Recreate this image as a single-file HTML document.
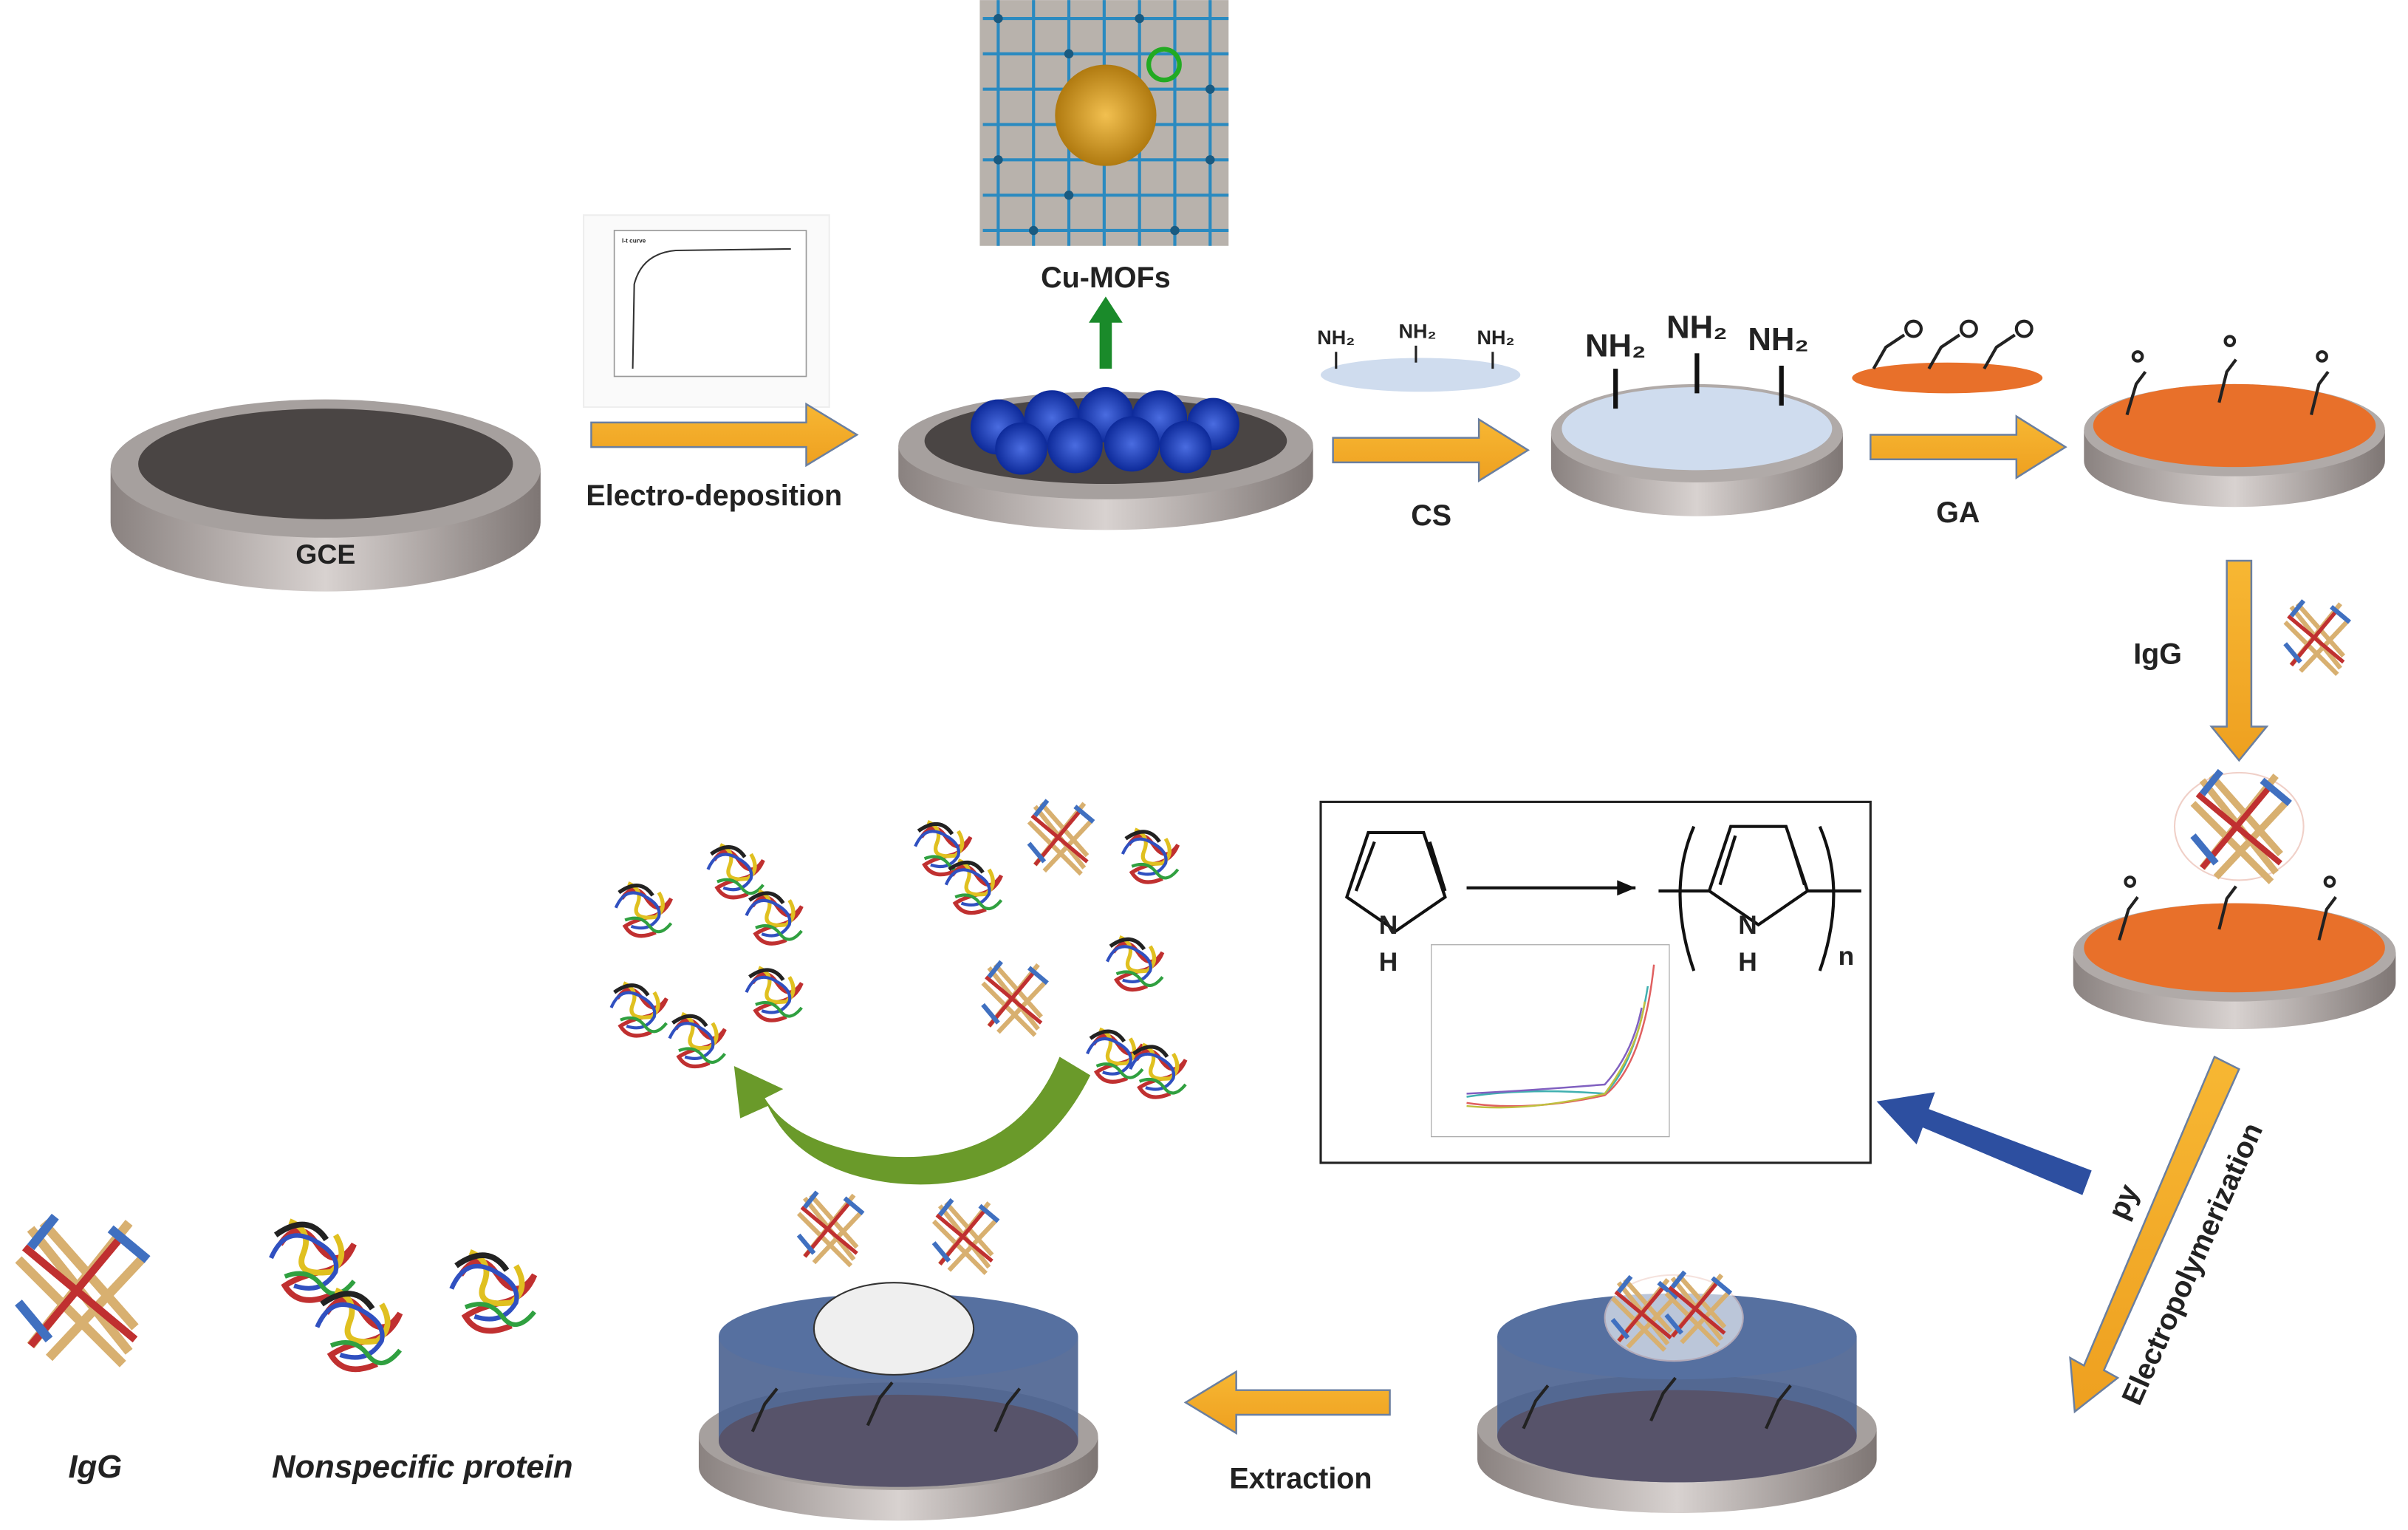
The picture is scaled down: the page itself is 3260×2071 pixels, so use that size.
<!DOCTYPE html>
<html><head><meta charset="utf-8"><style>
html,body{margin:0;padding:0;background:#fff;}
svg{display:block;}
text{font-family:"Liberation Sans",sans-serif;font-weight:bold;fill:#222;}
</style></head><body>
<svg width="3260" height="2071" viewBox="0 0 1568 996" xmlns="http://www.w3.org/2000/svg">
<defs>
<linearGradient id="side" x1="0" x2="1" y1="0" y2="0">
<stop offset="0" stop-color="#8a8280"/><stop offset="0.5" stop-color="#d8d2d0"/><stop offset="1" stop-color="#7e7674"/></linearGradient>
<linearGradient id="orA" x1="0" x2="0" y1="0" y2="1"><stop offset="0" stop-color="#f7b733"/><stop offset="1" stop-color="#eea020"/></linearGradient>
<radialGradient id="gold"><stop offset="0" stop-color="#f2c050"/><stop offset="1" stop-color="#b07a10"/></radialGradient>
<radialGradient id="bs"><stop offset="0" stop-color="#4a6ce0"/><stop offset="1" stop-color="#0d2a9a"/></radialGradient>
<g id="prot">
<path d="M0,0 q8,-12 16,0 t16,0 q-4,10 -14,12 t-16,6 q6,10 20,4" fill="none" stroke="#c03030" stroke-width="2.5"/>
<path d="M4,-10 q10,4 6,14 t12,8 q8,-6 2,-16" fill="none" stroke="#e0c020" stroke-width="2.5"/>
<path d="M-4,6 q6,-14 18,-8 t10,14 q-6,10 -18,6" fill="none" stroke="#3050c0" stroke-width="2"/>
<path d="M2,14 q10,-4 16,4 t14,-2" fill="none" stroke="#30a040" stroke-width="2"/>
<path d="M-2,-4 q14,-10 22,2" fill="none" stroke="#222" stroke-width="2.5"/>
</g>
<g id="igg">
<path d="M-16,-20 l32,40 M-12,-22 l30,34 M-20,-10 l34,34 M16,-22 l-32,40 M20,-10 l-30,32" stroke="#d8b070" stroke-width="3"/>
<path d="M-18,-14 l36,30 M14,-18 l-30,36" stroke="#c03030" stroke-width="2.5"/>
<path d="M-20,4 l10,12 M10,-20 l12,10 M-8,-24 l-8,10" stroke="#4070c0" stroke-width="3"/>
</g>
</defs>

<!-- Disk 1 GCE -->
<g>
<path d="M72,305 v35 a140,45 0 0 0 280,0 v-35 z" fill="url(#side)"/>
<ellipse cx="212" cy="305" rx="140" ry="45" fill="#a6a09e"/>
<ellipse cx="212" cy="302" rx="122" ry="36" fill="#4a4544"/>
<text x="212" y="367" font-size="18" text-anchor="middle" fill="#333">GCE</text>
</g>

<!-- chart 1 -->
<rect x="380" y="140" width="160" height="125" fill="#fafafa" stroke="#eee"/>
<rect x="400" y="150" width="125" height="95" fill="#fff" stroke="#999" stroke-width="0.8"/>
<path d="M412,240 L413,185 Q418,165 440,163 L515,162" fill="none" stroke="#333" stroke-width="1"/>
<text x="405" y="158" font-size="4" font-weight="normal">I-t curve</text>

<!-- arrow 1 -->
<path d="M385,275 h140 v-12 l33,20 l-33,20 v-12 h-140 z" fill="url(#orA)" stroke="#6a7fa0" stroke-width="1.2"/>
<text x="465" y="329" font-size="19" text-anchor="middle">Electro-deposition</text>

<!-- Disk 2 -->
<path d="M585,290 v20 a135,35 0 0 0 270,0 v-20 z" fill="url(#side)"/>
<ellipse cx="720" cy="290" rx="135" ry="35" fill="#a6a09e"/>
<ellipse cx="720" cy="287" rx="118" ry="28" fill="#4a4544"/>
<g fill="url(#bs)">
<circle cx="650" cy="278" r="18"/><circle cx="685" cy="272" r="18"/><circle cx="720" cy="270" r="18"/><circle cx="755" cy="272" r="18"/><circle cx="790" cy="276" r="17"/>
<circle cx="665" cy="292" r="17"/><circle cx="700" cy="290" r="18"/><circle cx="737" cy="289" r="18"/><circle cx="772" cy="291" r="17"/>
</g>
<!-- Cu-MOFs -->
<rect x="638" y="0" width="162" height="160" fill="#b8b2ac"/>
<g stroke="#2a8ac0" stroke-width="2" fill="none">
<path d="M640,12 h160 M640,35 h160 M640,58 h160 M640,81 h160 M640,104 h160 M640,127 h160 M640,150 h160 M650,0 v160 M673,0 v160 M696,0 v160 M719,0 v160 M742,0 v160 M765,0 v160 M788,0 v160"/>
</g>
<g fill="#1a5a80"><circle cx="650" cy="12" r="3"/><circle cx="696" cy="35" r="3"/><circle cx="742" cy="12" r="3"/><circle cx="788" cy="58" r="3"/><circle cx="650" cy="104" r="3"/><circle cx="696" cy="127" r="3"/><circle cx="765" cy="150" r="3"/><circle cx="788" cy="104" r="3"/><circle cx="673" cy="150" r="3"/></g>
<circle cx="720" cy="75" r="33" fill="url(#gold)"/>
<circle cx="758" cy="42" r="10" fill="none" stroke="#2a2" stroke-width="3"/>
<text x="720" y="187" font-size="19" text-anchor="middle">Cu-MOFs</text>
<path d="M716,240 v-30 h-7 l11,-17 l11,17 h-7 v30 z" fill="#1a8a2a"/>

<!-- CS -->
<ellipse cx="925" cy="244" rx="65" ry="11" fill="#cfdcee"/>
<g font-size="13"><text x="870" y="224" text-anchor="middle">NH₂</text><text x="923" y="220" text-anchor="middle">NH₂</text><text x="974" y="224" text-anchor="middle">NH₂</text></g>
<path d="M870,229 v11 M922,225 v11 M972,229 v11" stroke="#222" stroke-width="1.5"/>
<path d="M868,285 h95 v-12 l32,20 l-32,20 v-12 h-95 z" fill="url(#orA)" stroke="#6a7fa0" stroke-width="1.2"/>
<text x="932" y="342" font-size="19" text-anchor="middle">CS</text>

<!-- Disk 3 -->
<path d="M1010,282 v22 a95,32 0 0 0 190,0 v-22 z" fill="url(#side)"/>
<ellipse cx="1105" cy="282" rx="95" ry="32" fill="#b0aaa8"/>
<ellipse cx="1105" cy="279" rx="88" ry="27" fill="#cfdcee"/>
<g font-size="21"><text x="1052" y="232" text-anchor="middle">NH₂</text><text x="1105" y="220" text-anchor="middle">NH₂</text><text x="1158" y="228" text-anchor="middle">NH₂</text></g>
<path d="M1052,240 v26 M1105,230 v26 M1160,238 v26" stroke="#111" stroke-width="3"/>

<!-- GA -->
<ellipse cx="1268" cy="246" rx="62" ry="10" fill="#e8702a"/>
<g fill="none" stroke="#222" stroke-width="2"><path d="M1220,240 l8,-14 l12,-8"/><circle cx="1246" cy="214" r="5"/><path d="M1256,240 l8,-14 l12,-8"/><circle cx="1282" cy="214" r="5"/><path d="M1292,240 l8,-14 l12,-8"/><circle cx="1318" cy="214" r="5"/></g>
<path d="M1218,283 h95 v-12 l32,20 l-32,20 v-12 h-95 z" fill="url(#orA)" stroke="#6a7fa0" stroke-width="1.2"/>
<text x="1275" y="340" font-size="19" text-anchor="middle">GA</text>

<!-- Disk 4 -->
<path d="M1357,280 v20 a98,30 0 0 0 196,0 v-20 z" fill="url(#side)"/>
<ellipse cx="1455" cy="280" rx="98" ry="30" fill="#b0aaa8"/>
<ellipse cx="1455" cy="277" rx="92" ry="27" fill="#e8702a"/>
<g fill="none" stroke="#222" stroke-width="2"><path d="M1385,270 l6,-20 l6,-8"/><circle cx="1392" cy="232" r="3"/><path d="M1445,262 l5,-20 l6,-8"/><circle cx="1452" cy="222" r="3"/><path d="M1505,270 l5,-20 l6,-8"/><circle cx="1512" cy="232" r="3"/></g>

<!-- down arrow IgG -->
<path d="M1450,365 h16 v108 h10 l-18,22 l-18,-22 h10 z" fill="url(#orA)" stroke="#6a7fa0" stroke-width="1.2"/>
<text x="1405" y="432" font-size="19" text-anchor="middle">IgG</text>
<use href="#igg" x="1508" y="415"/>

<!-- Disk 5 -->
<path d="M1350,620 v20 a105,30 0 0 0 210,0 v-20 z" fill="url(#side)"/>
<ellipse cx="1455" cy="620" rx="105" ry="32" fill="#b0aaa8"/>
<ellipse cx="1455" cy="617" rx="98" ry="29" fill="#e8702a"/>
<ellipse cx="1458" cy="538" rx="42" ry="35" fill="#fff" stroke="#f0d0c8"/>
<use href="#igg" x="1458" y="538" transform="translate(-729 -269) scale(1.5)"/>
<g fill="none" stroke="#222" stroke-width="2"><path d="M1380,612 l6,-20 l6,-8"/><circle cx="1387" cy="574" r="3"/><path d="M1445,605 l5,-20 l6,-8"/><path d="M1510,612 l5,-20 l6,-8"/><circle cx="1517" cy="574" r="3"/></g>

<!-- diagonal arrow -->
<path d="M1442,688 l16,8 l-88,196 l9,5 l-28,22 l-3,-35 l9,5 z" fill="url(#orA)" stroke="#6a7fa0" stroke-width="1.2"/>
<text transform="translate(1393,916) rotate(-66)" font-size="19">Electropolymerization</text>
<text transform="translate(1384,795) rotate(-66)" font-size="19">py</text>

<!-- blue arrow -->
<path d="M1362,762 l-6,16 l-104,-44 l-4,11 l-26,-28 l38,-6 l-4,11 z" fill="#2d4fa0"/>

<!-- box -->
<rect x="860" y="522" width="358" height="235" fill="#fff" stroke="#222" stroke-width="1.5"/>
<g fill="none" stroke="#111" stroke-width="2">
<path d="M877,584 l14,-42 h36 l14,42 l-32,22 z"/><path d="M883,580 l12,-32 M931,548 l10,32"/>
<path d="M1113,580 l14,-42 h36 l14,42 l-32,22 z M1120,576 l10,-32 M1165,544 l10,32 M1080,580 h33 M1177,580 h35"/>
<path d="M1103,538 q-18,42 0,94 M1185,538 q18,42 0,94"/>
<path d="M955,578 h110"/>
</g>
<path d="M1065,578 l-12,-5 v10 z" fill="#111"/>
<g font-size="17" font-weight="normal"><text x="904" y="608" text-anchor="middle">N</text><text x="904" y="632" text-anchor="middle">H</text><text x="1138" y="608" text-anchor="middle">N</text><text x="1138" y="632" text-anchor="middle">H</text><text x="1197" y="628">n</text></g>
<rect x="932" y="615" width="155" height="125" fill="#fff" stroke="#aaa" stroke-width="0.6"/>
<g fill="none" stroke-width="1.2"><path d="M955,718 q40,6 90,-5 q25,-20 32,-85" stroke="#e06060"/><path d="M955,714 q40,-6 90,-2 q20,-20 28,-70" stroke="#40b0b0"/><path d="M955,720 q40,4 90,-8 q22,-30 26,-60" stroke="#c0c040"/><path d="M955,712 q40,-2 90,-6 q18,-20 24,-50" stroke="#8060c0"/></g>

<!-- Disk 6 -->
<path d="M962,930 v20 a130,35 0 0 0 260,0 v-20 z" fill="url(#side)"/>
<ellipse cx="1092" cy="930" rx="130" ry="35" fill="#a6a09e"/>
<path d="M975,870 v65 a117,30 0 0 0 234,0 v-65 z" fill="#4a6290" opacity="0.9"/>
<ellipse cx="1092" cy="870" rx="117" ry="28" fill="#5670a0"/>
<path d="M975,935 a117,30 0 0 0 234,0 a117,30 0 0 0 -234,0" fill="#5a4a5a" opacity="0.7"/>
<g stroke="#222" stroke-width="2" fill="none"><path d="M992,930 l8,-18 l8,-10 M1075,925 l8,-18 l8,-10 M1150,930 l8,-18 l8,-10"/></g>
<ellipse cx="1090" cy="858" rx="45" ry="28" fill="#fff" opacity="0.6" stroke="#f0d0c8"/>
<use href="#igg" x="1070" y="855"/><use href="#igg" x="1105" y="852"/>

<!-- Extraction arrow -->
<path d="M905,905 h-100 v-12 l-33,20 l33,20 v-12 h100 z" fill="url(#orA)" stroke="#6a7fa0" stroke-width="1.2"/>
<text x="847" y="969" font-size="19" text-anchor="middle">Extraction</text>

<!-- Disk 7 -->
<path d="M455,935 v20 a130,35 0 0 0 260,0 v-20 z" fill="url(#side)"/>
<ellipse cx="585" cy="935" rx="130" ry="35" fill="#a6a09e"/>
<path d="M468,870 v68 a117,30 0 0 0 234,0 v-68 z" fill="#4a6290" opacity="0.9"/>
<ellipse cx="585" cy="870" rx="117" ry="28" fill="#5670a0"/>
<path d="M468,938 a117,30 0 0 0 234,0 a117,30 0 0 0 -234,0" fill="#5a4a5a" opacity="0.7"/>
<g stroke="#222" stroke-width="2" fill="none"><path d="M490,932 l8,-18 l8,-10 M565,928 l8,-18 l8,-10 M648,932 l8,-18 l8,-10"/></g>
<ellipse cx="582" cy="865" rx="52" ry="30" fill="#efefef" stroke="#333"/>
<use href="#igg" x="540" y="800"/><use href="#igg" x="628" y="805"/>

<!-- green curved arrow -->
<path d="M710,700 q-40,80 -130,70 q-60,-8 -80,-50 l-18,8 l-4,-34 l32,15 l-12,6 q20,32 82,38 q82,4 110,-65 z" fill="#6a9a2a"/>

<!-- floating proteins -->
<use href="#prot" x="405" y="585"/><use href="#prot" x="465" y="560"/><use href="#prot" x="490" y="590"/>
<use href="#prot" x="402" y="650"/><use href="#prot" x="440" y="670"/><use href="#prot" x="490" y="640"/>
<use href="#prot" x="600" y="545"/><use href="#prot" x="620" y="570"/><use href="#igg" x="690" y="545"/><use href="#prot" x="735" y="550"/>
<use href="#igg" x="660" y="650"/><use href="#prot" x="725" y="620"/><use href="#prot" x="712" y="680"/><use href="#prot" x="740" y="690"/>

<!-- legend -->
<use href="#igg" x="52" y="840" transform="translate(-52 -840) scale(2)"/>
<use href="#prot" x="185" y="820" transform="translate(-95 -420) scale(1.5)"/>
<use href="#prot" x="205" y="850" transform="translate(-95 -420) scale(1.5)"/>
<use href="#prot" x="300" y="830" transform="translate(-150 -415) scale(1.5)"/>
<text x="62" y="962" font-size="21" font-style="italic" text-anchor="middle">IgG</text>
<text x="275" y="962" font-size="21" font-style="italic" text-anchor="middle">Nonspecific protein</text>
</svg>
</body></html>
